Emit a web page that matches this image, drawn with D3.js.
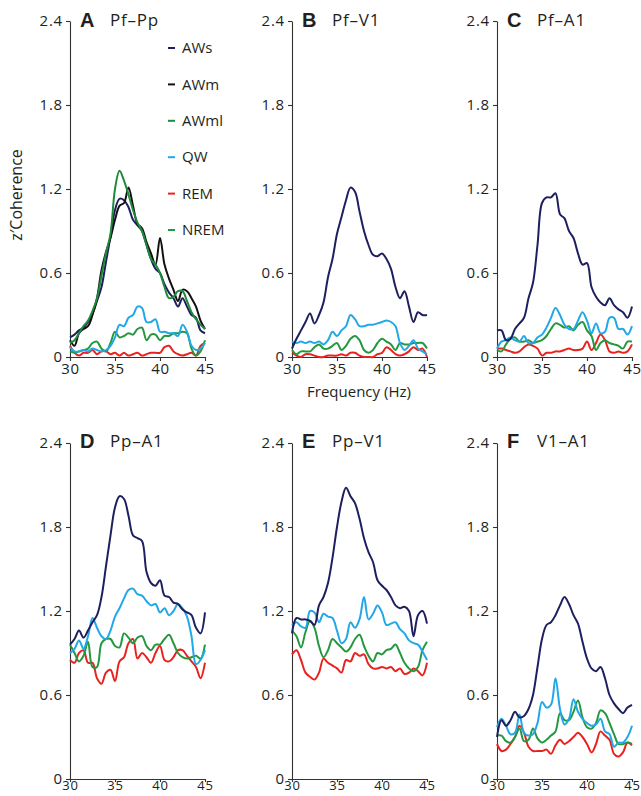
<!DOCTYPE html>
<html><head><meta charset="utf-8">
<script src="https://cdn.jsdelivr.net/npm/d3@7"></script>
<style>
body{margin:0;background:#fff}
svg{display:block}
text{font-family:"Open Sans","DejaVu Sans",sans-serif;fill:#231f20}
</style>
</head><body>
<svg id="chart" width="641" height="796"></svg>
<script>
// ---------- data ----------
const freq = [30,30.5,31,31.5,32,32.5,33,33.5,34,34.5,35,35.5,36,36.5,37,37.5,38,38.5,39,39.5,40,40.5,41,41.5,42,42.5,43,43.5,44,44.5,45];
const yTicks = [0,0.6,1.2,1.8,2.4];
const xTicks = [30,35,40,45];
const stateNames = ["AWs","AWm","AWml","QW","REM","NREM"];
const stateColors = ["#1d1f5e","#111111","#1f8a3c","#22a8e6","#e8231f","#25973f"];

// Panel A: Pf–Pp
const A_AWs  = [0.14,0.16,0.19,0.21,0.25,0.31,0.40,0.50,0.68,0.86,1.05,1.13,1.12,1.07,0.98,0.94,0.90,0.80,0.70,0.63,0.60,0.52,0.46,0.42,0.36,0.42,0.36,0.30,0.28,0.19,0.17];
const A_AWm  = [0.12,0.08,0.17,0.20,0.22,0.30,0.42,0.62,0.75,0.85,0.98,1.08,1.10,1.21,1.08,0.95,0.92,0.82,0.74,0.66,0.85,0.66,0.56,0.48,0.40,0.48,0.47,0.42,0.36,0.26,0.20];
const A_AWml = [0.10,0.12,0.17,0.22,0.26,0.33,0.42,0.58,0.74,0.88,1.20,1.33,1.26,1.16,1.05,0.96,0.90,0.80,0.70,0.66,0.60,0.50,0.42,0.43,0.47,0.47,0.40,0.32,0.27,0.23,0.20];
const A_QW   = [0.07,0.04,0.04,0.05,0.04,0.06,0.05,0.04,0.05,0.08,0.14,0.23,0.22,0.28,0.30,0.36,0.35,0.25,0.25,0.27,0.18,0.18,0.17,0.17,0.15,0.23,0.18,0.08,0.05,0.06,0.10];
const A_REM  = [0.08,0.03,0.01,0.03,0.03,0.05,0.02,0.04,0.04,0.02,0.03,0.01,0.03,0.01,0.02,0.03,0.01,0.02,0.03,0.03,0.03,0.07,0.08,0.04,0.02,0.01,0.02,0.03,0.01,0.08,0.10];
const A_NREM = [0.04,0.03,0.04,0.05,0.06,0.10,0.11,0.06,0.04,0.10,0.18,0.14,0.15,0.17,0.16,0.20,0.21,0.12,0.16,0.16,0.12,0.15,0.15,0.17,0.17,0.18,0.17,0.06,0.01,0.04,0.12];

// Panel B: Pf–V1
const B_AWs  = [0.06,0.13,0.19,0.25,0.31,0.24,0.30,0.39,0.57,0.70,0.88,1.00,1.12,1.21,1.18,1.04,0.90,0.80,0.73,0.72,0.74,0.70,0.63,0.50,0.42,0.47,0.36,0.25,0.32,0.30,0.30];
const B_QW   = [0.11,0.10,0.11,0.10,0.11,0.10,0.11,0.09,0.12,0.18,0.15,0.19,0.22,0.30,0.27,0.22,0.22,0.23,0.23,0.24,0.25,0.26,0.25,0.22,0.10,0.05,0.08,0.12,0.06,0.04,0.02];
const B_REM  = [0.03,0.01,0.00,0.02,0.02,0.01,0.00,0.00,0.01,0.01,0.01,0.02,0.01,0.03,0.03,0.01,0.00,0.00,0.00,0.02,0.03,0.07,0.05,0.02,0.01,0.02,0.04,0.07,0.05,0.06,0.00];
const B_NREM = [0.05,0.02,0.04,0.04,0.04,0.07,0.09,0.06,0.06,0.08,0.10,0.05,0.08,0.13,0.15,0.12,0.05,0.03,0.05,0.10,0.13,0.11,0.09,0.05,0.10,0.09,0.09,0.10,0.10,0.10,0.06];

// Panel C: Pf–A1
const C_AWs  = [0.19,0.19,0.12,0.13,0.20,0.24,0.28,0.42,0.53,0.80,1.10,1.14,1.14,1.17,1.02,0.99,0.90,0.85,0.74,0.66,0.67,0.50,0.43,0.39,0.37,0.42,0.37,0.34,0.32,0.28,0.36];
const C_QW   = [0.06,0.11,0.12,0.14,0.12,0.11,0.15,0.10,0.10,0.14,0.16,0.21,0.28,0.35,0.30,0.23,0.20,0.20,0.26,0.32,0.26,0.17,0.24,0.17,0.18,0.28,0.28,0.20,0.20,0.16,0.22];
const C_REM  = [0.06,0.06,0.05,0.04,0.03,0.04,0.07,0.09,0.08,0.06,0.01,0.03,0.03,0.04,0.04,0.05,0.06,0.05,0.05,0.06,0.11,0.05,0.10,0.16,0.12,0.04,0.03,0.04,0.03,0.04,0.09];
const C_NREM = [0.05,0.04,0.09,0.13,0.14,0.11,0.11,0.12,0.10,0.11,0.12,0.15,0.20,0.24,0.23,0.21,0.22,0.19,0.23,0.25,0.19,0.15,0.05,0.10,0.12,0.10,0.09,0.08,0.06,0.11,0.11];

// Panel D: Pp–A1
const D_AWs  = [0.96,1.00,1.06,1.01,1.06,1.12,1.17,1.30,1.52,1.74,1.94,2.02,2.00,1.88,1.74,1.72,1.70,1.48,1.40,1.38,1.42,1.31,1.30,1.26,1.25,1.21,1.19,1.17,1.08,1.04,1.19];
const D_QW   = [0.90,0.93,0.99,0.93,1.02,1.15,1.08,1.02,1.00,1.06,1.16,1.22,1.29,1.35,1.36,1.32,1.31,1.27,1.24,1.25,1.19,1.22,1.17,1.20,1.25,1.22,1.16,1.02,0.82,0.85,0.92];
const D_REM  = [0.85,0.83,0.90,0.92,0.83,0.83,0.72,0.68,0.76,0.78,0.70,0.84,0.87,0.97,1.00,0.86,0.90,0.87,0.83,0.90,0.95,0.85,0.84,0.87,0.92,0.92,0.88,0.84,0.80,0.72,0.83];
const D_NREM = [0.96,0.90,0.84,0.88,0.98,0.80,0.80,0.97,1.00,1.00,0.95,0.94,1.04,1.01,0.97,1.01,1.02,0.95,0.92,0.96,0.96,1.00,1.03,0.97,0.90,0.87,0.86,0.87,0.88,0.86,0.96];

// Panel E: Pp–V1
const E_AWs  = [1.04,1.15,1.14,1.14,1.13,1.10,1.24,1.30,1.40,1.58,1.80,1.98,2.08,2.02,1.97,1.86,1.72,1.62,1.55,1.42,1.38,1.35,1.30,1.24,1.22,1.23,1.20,1.02,1.17,1.20,1.11];
const E_QW   = [1.10,1.12,1.09,1.08,1.20,1.19,1.12,1.18,1.16,1.15,1.06,0.97,1.00,1.12,1.08,1.14,1.30,1.14,1.18,1.24,1.19,1.10,1.11,1.12,1.07,1.04,0.99,0.97,0.96,0.91,0.85];
const E_REM  = [0.89,0.92,0.85,0.76,0.73,0.71,0.76,0.86,0.83,0.81,0.79,0.76,0.85,0.84,0.90,0.88,0.89,0.82,0.79,0.79,0.80,0.79,0.80,0.77,0.79,0.75,0.76,0.79,0.77,0.74,0.83];
const E_NREM = [1.06,1.02,0.94,1.05,1.13,1.08,0.95,0.87,0.92,1.00,0.97,0.94,0.91,0.94,1.00,1.03,0.95,0.88,0.84,0.90,0.89,0.92,0.93,0.96,0.90,0.83,0.79,0.77,0.80,0.92,0.98];

// Panel F: V1–A1
const F_AWs  = [0.30,0.42,0.38,0.42,0.48,0.44,0.45,0.50,0.60,0.80,1.00,1.10,1.12,1.17,1.24,1.30,1.25,1.17,1.11,0.98,0.86,0.79,0.77,0.80,0.72,0.60,0.54,0.50,0.47,0.51,0.53];
const F_QW   = [0.37,0.43,0.38,0.32,0.33,0.46,0.33,0.31,0.32,0.40,0.55,0.51,0.53,0.72,0.50,0.39,0.43,0.57,0.48,0.43,0.40,0.38,0.39,0.43,0.34,0.32,0.23,0.26,0.26,0.30,0.38];
const F_REM  = [0.25,0.20,0.21,0.25,0.30,0.38,0.33,0.23,0.20,0.20,0.20,0.21,0.18,0.24,0.28,0.25,0.27,0.30,0.33,0.30,0.25,0.19,0.25,0.34,0.31,0.28,0.18,0.16,0.19,0.26,0.24];
const F_NREM = [0.31,0.31,0.27,0.26,0.30,0.36,0.27,0.28,0.36,0.29,0.26,0.28,0.31,0.34,0.47,0.42,0.42,0.48,0.56,0.44,0.37,0.36,0.40,0.49,0.47,0.40,0.32,0.25,0.25,0.26,0.25];

const panels = [
  {letter:"A", title:"Pf–Pp", col:0, row:0, series:[["REM",A_REM],["NREM",A_NREM],["QW",A_QW],["AWs",A_AWs],["AWm",A_AWm],["AWml",A_AWml]]},
  {letter:"B", title:"Pf–V1", col:1, row:0, series:[["REM",B_REM],["NREM",B_NREM],["QW",B_QW],["AWs",B_AWs]]},
  {letter:"C", title:"Pf–A1", col:2, row:0, series:[["REM",C_REM],["NREM",C_NREM],["QW",C_QW],["AWs",C_AWs]]},
  {letter:"D", title:"Pp–A1", col:0, row:1, series:[["REM",D_REM],["NREM",D_NREM],["QW",D_QW],["AWs",D_AWs]]},
  {letter:"E", title:"Pp–V1", col:1, row:1, series:[["REM",E_REM],["NREM",E_NREM],["QW",E_QW],["AWs",E_AWs]]},
  {letter:"F", title:"V1–A1", col:2, row:1, series:[["REM",F_REM],["NREM",F_NREM],["QW",F_QW],["AWs",F_AWs]]}
];

// ---------- layout ----------
const colX = [70, 292, 497];
const plotW = 135;
const rowY = [21, 443];
const plotH = 336;

const svg = d3.select("#chart");
const color = d3.scaleOrdinal().domain(stateNames).range(stateColors);

panels.forEach(p => {
  const x0 = colX[p.col], y0 = rowY[p.row];
  const g = svg.append("g").attr("transform", `translate(${x0},${y0})`);
  const x = d3.scaleLinear().domain([30,45]).range([0, plotW]);
  const y = d3.scaleLinear().domain([0,2.4]).range([plotH, 0]);

  const yAxis = d3.axisLeft(y).tickValues(yTicks)
    .tickFormat(d => d === 0 ? "0" : d3.format(".1f")(d))
    .tickSize(4).tickSizeOuter(0).tickPadding(3);
  const ya = g.append("g").call(yAxis);
  const bottomRow = p.row === 1;
  const xAxis = d3.axisBottom(x).tickValues(xTicks)
    .tickSize(bottomRow ? 3 : 4).tickSizeOuter(0).tickPadding(bottomRow ? 0 : 2);
  const xa = g.append("g").attr("transform", `translate(0,${plotH})`).call(xAxis);
  [ya, xa].forEach(a => {
    a.selectAll("path,line").attr("stroke", "#333").attr("stroke-width", 1.1);
    a.selectAll("text").style("font-size", "15px").style("letter-spacing", "0.8px")
      .style("font-family", "'Open Sans',sans-serif").attr("fill", "#231f20");
  });
  if (bottomRow) {
    xa.selectAll("text").style("font-size", "13px").attr("dy", "0.62em");
  }

  const line = d3.line()
    .x((d, i) => x(freq[i]))
    .y(d => y(d))
    .curve(d3.curveCatmullRom.alpha(0.5));

  p.series.forEach(([name, vals]) => {
    g.append("path").datum(vals)
      .attr("d", line)
      .attr("fill", "none")
      .attr("stroke", color(name))
      .attr("stroke-width", 2)
      .attr("stroke-linejoin", "round");
  });

  g.append("text").attr("x", 10).attr("y", p.row === 0 ? 6 : 5)
    .style("font-family", "'Liberation Sans',Arial,sans-serif")
    .style("font-weight", "bold").style("font-size", "20px")
    .text(p.letter);
  g.append("text").attr("x", 40).attr("y", p.row === 0 ? 5 : 4)
    .style("font-size", "17px").style("letter-spacing", "0.8px")
    .text(p.title);
});

// legend (panel A)
const lg = svg.append("g").attr("transform", "translate(168,47)");
stateNames.forEach((name, i) => {
  const row = lg.append("g").attr("transform", `translate(0,${i * 36.4})`);
  row.append("line").attr("x1", 0).attr("x2", 7).attr("y1", 1).attr("y2", 1)
    .attr("stroke", color(name)).attr("stroke-width", 2);
  row.append("text").attr("x", 14).attr("y", 1).attr("dy", "0.35em")
    .style("font-size", "15px").text(name);
});

// axis titles
svg.append("text")
  .attr("transform", "translate(22,195) rotate(-90)")
  .attr("text-anchor", "middle")
  .style("font-size", "16px")
  .text("z′Coherence");
svg.append("text")
  .attr("x", 359).attr("y", 397)
  .attr("text-anchor", "middle")
  .style("font-size", "15px").style("font-weight", "500")
  .text("Frequency (Hz)");
</script>
</body></html>
